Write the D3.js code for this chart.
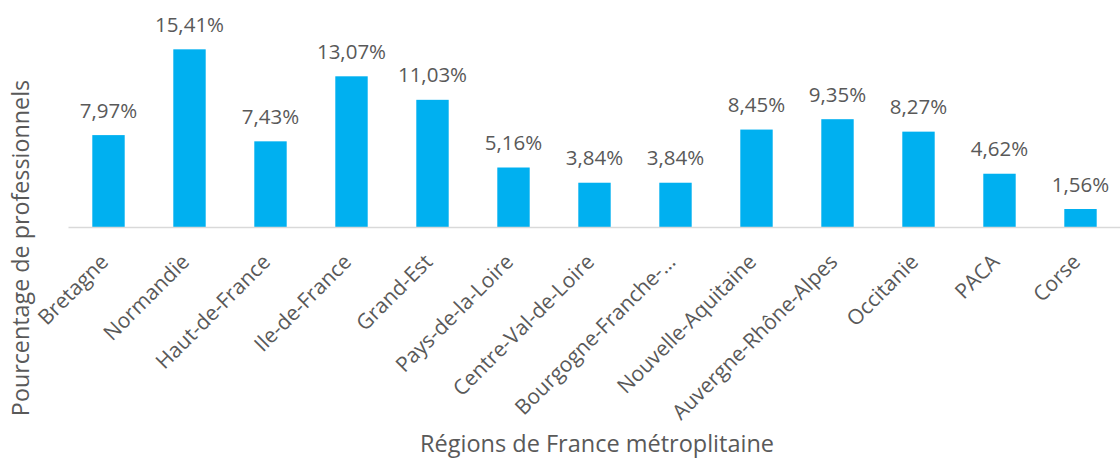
<!DOCTYPE html>
<html>
<head>
<meta charset="utf-8">
<script src="https://cdn.jsdelivr.net/npm/d3@7.9.0/dist/d3.min.js"></script>
<style>
  body { margin: 0; background: #fff; }
  svg text { font-family: "Open Sans", sans-serif; fill: #595959; }
</style>
</head>
<body>
<svg id="chart"></svg>
<script>
// data
const regions = ["Bretagne", "Normandie", "Haut-de-France", "Ile-de-France", "Grand-Est",
  "Pays-de-la-Loire", "Centre-Val-de-Loire", "Bourgogne-Franche-…", "Nouvelle-Aquitaine",
  "Auvergne-Rhône-Alpes", "Occitanie", "PACA", "Corse"];
const percents = [7.97, 15.41, 7.43, 13.07, 11.03, 5.16, 3.84, 3.84, 8.45, 9.35, 8.27, 4.62, 1.56];
const yTitle = "Pourcentage de professionnels";
const xTitle = "Régions de France métroplitaine";

const width = 1120, height = 459;
const baseY = 227;

const svg = d3.select("#chart")
  .attr("width", width)
  .attr("height", height);

const data = regions.map((r, i) => ({ region: r, value: percents[i] }));

const x = d3.scaleBand()
  .domain(regions)
  .range([68, 1121])
  .paddingInner(0.6)
  .paddingOuter(0.3);

const y = d3.scaleLinear()
  .domain([0, 18])
  .range([baseY, baseY - 18 * 11.53]);

const fmt = v => d3.format(".2f")(v).replace(".", ",") + "%";

// bars
svg.selectAll("rect.bar")
  .data(data)
  .enter()
  .append("rect")
  .attr("class", "bar")
  .attr("x", d => x(d.region))
  .attr("y", d => y(d.value))
  .attr("width", x.bandwidth())
  .attr("height", d => y(0) - y(d.value))
  .attr("fill", "#00b0f0");

// value labels
svg.selectAll("text.val")
  .data(data)
  .enter()
  .append("text")
  .attr("class", "val")
  .attr("x", d => x(d.region) + x.bandwidth() / 2)
  .attr("y", d => y(d.value) - 17.5)
  .attr("text-anchor", "middle")
  .attr("font-size", "20.5px")
  .text(d => fmt(d.value));

// category axis
const xAxis = svg.append("g")
  .attr("transform", `translate(0,${baseY})`)
  .call(d3.axisBottom(x).tickSize(0).tickPadding(0));

xAxis.select(".domain")
  .attr("stroke", "#d9d9d9")
  .attr("stroke-width", 1.5);

xAxis.selectAll(".tick text")
  .attr("font-size", "21px")
  .attr("fill", "#595959")
  .attr("font-family", "Open Sans, sans-serif")
  .attr("text-anchor", "end")
  .attr("dy", "0.35em")
  .attr("transform", "translate(-4,31) rotate(-45)");

// axis titles
svg.append("text")
  .attr("transform", "translate(29,248) rotate(-90)")
  .attr("text-anchor", "middle")
  .attr("font-size", "23.3px")
  .text(yTitle);

svg.append("text")
  .attr("x", 597)
  .attr("y", 452)
  .attr("text-anchor", "middle")
  .attr("font-size", "23.5px")
  .text(xTitle);
</script>
</body>
</html>
